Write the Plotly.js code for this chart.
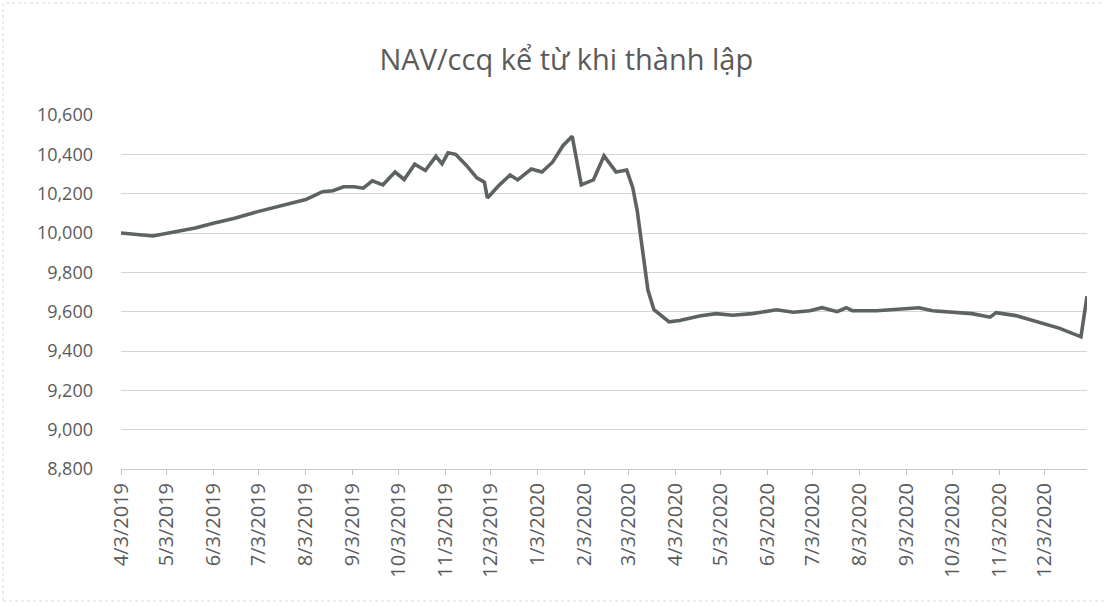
<!DOCTYPE html>
<html>
<head>
<meta charset="utf-8">
<script src="https://cdn.plot.ly/plotly-3.0.1.min.js"></script>
<style>
html,body{margin:0;padding:0;background:#fff;}
#chart{width:1104px;height:606px;}
</style>
</head>
<body>
<div id="chart"></div>
<script>
// ---- data ----
const navDates = [
  '2019-04-03','2019-04-10','2019-04-17','2019-04-24','2019-05-08','2019-05-22',
  '2019-06-03','2019-06-17','2019-07-03','2019-07-17','2019-08-03','2019-08-10',
  '2019-08-14','2019-08-21','2019-08-28','2019-09-04','2019-09-10','2019-09-16',
  '2019-09-23','2019-10-01','2019-10-07','2019-10-14','2019-10-21','2019-10-28',
  '2019-11-01','2019-11-05','2019-11-10','2019-11-17','2019-11-24','2019-11-29',
  '2019-12-01','2019-12-09','2019-12-16','2019-12-21','2019-12-30','2020-01-06',
  '2020-01-13','2020-01-20','2020-01-26','2020-02-01','2020-02-09','2020-02-16',
  '2020-02-24','2020-03-02','2020-03-06','2020-03-09','2020-03-13','2020-03-16',
  '2020-03-20','2020-03-26','2020-03-30','2020-04-06','2020-04-19','2020-04-30',
  '2020-05-11','2020-05-24','2020-06-09','2020-06-20','2020-07-01','2020-07-09',
  '2020-07-19','2020-07-25','2020-07-29','2020-08-14','2020-08-29','2020-09-11',
  '2020-09-20','2020-10-03','2020-10-16','2020-10-28','2020-11-01','2020-11-14',
  '2020-11-25','2020-12-13','2020-12-27','2020-12-31'
];
const navValues = [
  10000, 9995, 9990, 9985, 10005, 10025,
  10050, 10075, 10110, 10135, 10170, 10195,
  10210, 10215, 10235, 10235, 10228, 10265,
  10245, 10310, 10272, 10350, 10318, 10390,
  10352, 10408, 10400, 10345, 10280, 10258,
  10178, 10245, 10295, 10270, 10325, 10310,
  10360, 10445, 10492, 10245, 10270, 10392,
  10310, 10320, 10230, 10110, 9880, 9710,
  9610, 9570, 9548, 9555, 9578, 9590,
  9582, 9590, 9610, 9597, 9605, 9620,
  9600, 9620, 9605, 9605, 9615, 9620,
  9605, 9597, 9590, 9572, 9595, 9580,
  9557, 9515, 9472, 9678
];
const tickDates = [
  '2019-04-03','2019-05-03','2019-06-03','2019-07-03','2019-08-03','2019-09-03',
  '2019-10-03','2019-11-03','2019-12-03','2020-01-03','2020-02-03','2020-03-03',
  '2020-04-03','2020-05-03','2020-06-03','2020-07-03','2020-08-03','2020-09-03',
  '2020-10-03','2020-11-03','2020-12-03'
];
const tickLabels = [
  '4/3/2019','5/3/2019','6/3/2019','7/3/2019','8/3/2019','9/3/2019',
  '10/3/2019','11/3/2019','12/3/2019','1/3/2020','2/3/2020','3/3/2020',
  '4/3/2020','5/3/2020','6/3/2020','7/3/2020','8/3/2020','9/3/2020',
  '10/3/2020','11/3/2020','12/3/2020'
];
const yTicks = [8800, 9000, 9200, 9400, 9600, 9800, 10000, 10200, 10400, 10600];
const chartTitle = 'NAV/ccq kể từ khi thành lập';

const FONT = 'Open Sans, Lato, sans-serif';
const TXT = '#5a5a5a';

const trace = {
  x: navDates, y: navValues, type: 'scatter', mode: 'lines',
  line: {color: '#5d6262', width: 3.6, shape: 'linear'},
  hoverinfo: 'x+y'
};

const layout = {
  width: 1104, height: 606,
  paper_bgcolor: '#ffffff', plot_bgcolor: '#ffffff',
  margin: {l: 121, r: 17, t: 115, b: 137, pad: 0},
  showlegend: false,
  title: {
    text: chartTitle,
    font: {family: FONT, size: 29, color: TXT},
    xref: 'container', x: 0.513, xanchor: 'center',
    yref: 'container', y: 1 - 60/606, yanchor: 'middle'
  },
  xaxis: {
    type: 'date',
    range: ['2019-04-03', '2020-12-31'],
    tickmode: 'array', tickvals: tickDates, ticktext: tickLabels,
    tickangle: -90,
    tickfont: {family: FONT, size: 20, color: TXT},
    ticks: 'outside', ticklen: 5, tickcolor: '#bdbdbd', tickwidth: 1,
    showgrid: false, zeroline: false,
    showline: true, linecolor: '#c8c8c8', linewidth: 1,
    fixedrange: true
  },
  yaxis: {
    range: [8800, 10600],
    tickmode: 'array', tickvals: yTicks,
    tickformat: ',d',
    tickfont: {family: FONT, size: 18, color: TXT},
    ticks: '', ticklabelstandoff: 27,
    showgrid: true, gridcolor: '#d4d4d4', gridwidth: 1,
    zeroline: false, showline: false,
    fixedrange: true
  },
  shapes: [{
    type: 'rect', xref: 'paper', yref: 'paper',
    x0: -118/966, x1: 1014/966, y0: -132/354, y1: 466/354,
    line: {color: '#d8d8d8', width: 1, dash: 'dot'}, fillcolor: 'rgba(0,0,0,0)', layer: 'below'
  }]
};

Plotly.newPlot('chart', [trace], layout, {displayModeBar: false, staticPlot: true});
</script>
</body>
</html>
